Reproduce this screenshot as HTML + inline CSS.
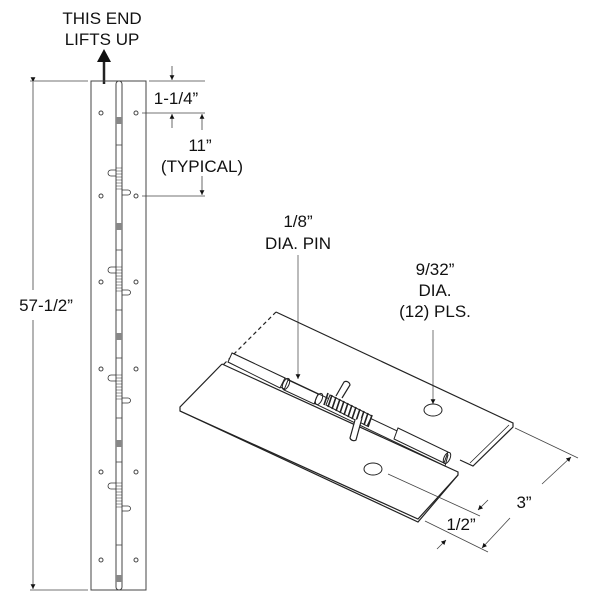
<!DOCTYPE html>
<html><head><style>body{margin:0;background:#fff}svg{display:block}text{font-family:"Liberation Sans",sans-serif;fill:#111}</style></head><body>
<svg width="600" height="600" viewBox="0 0 600 600" xmlns="http://www.w3.org/2000/svg" stroke="#222" fill="none" stroke-width="1">
<defs><marker id="a" viewBox="0 0 10 10" refX="10" refY="5" markerWidth="6" markerHeight="6" orient="auto"><path d="M0,0L10,5L0,10z" fill="#111" stroke="none"/></marker></defs>
<text x="102" y="24" font-size="17" text-anchor="middle" stroke="none">THIS END</text>
<text x="102" y="45" font-size="17" text-anchor="middle" stroke="none">LIFTS UP</text>
<line x1="104" y1="84" x2="104" y2="55" stroke-width="2.5"/>
<path d="M97,62L104,49L111,62z" fill="#111" stroke="none"/>
<rect x="91" y="81" width="55" height="509" stroke="#444"/>
<rect x="116" y="81" width="6" height="509" rx="3" stroke="#444"/>
<g fill="#888" stroke="none">
<rect x="116" y="117" width="6" height="7"/><rect x="116" y="223" width="6" height="7"/><rect x="116" y="333" width="6" height="7"/><rect x="116" y="440" width="6" height="7"/><rect x="116" y="575" width="6" height="7"/></g>
<g stroke="#444" stroke-width="0.8">
<line x1="116" y1="145" x2="122" y2="145"/><line x1="116" y1="250" x2="122" y2="250"/><line x1="116" y1="310" x2="122" y2="310"/><line x1="116" y1="358" x2="122" y2="358"/><line x1="116" y1="418" x2="122" y2="418"/><line x1="116" y1="462" x2="122" y2="462"/><line x1="116" y1="545" x2="122" y2="545"/></g>
<g stroke="#333" stroke-width="0.8">
<path d="M116,170h-5a3,3 0 0 0 0,6h5"/><path d="M122,190h6a2.5,2.5 0 0 1 0,5h-6"/>
<path d="M116,267h-5a3,3 0 0 0 0,6h5"/><path d="M122,290h6a2.5,2.5 0 0 1 0,5h-6"/>
<path d="M116,375h-5a3,3 0 0 0 0,6h5"/><path d="M122,398h6a2.5,2.5 0 0 1 0,5h-6"/>
<path d="M116,483h-5a3,3 0 0 0 0,6h5"/><path d="M122,506h6a2.5,2.5 0 0 1 0,5h-6"/>
</g>
<g stroke="#333" stroke-width="0.6">
<path d="M116,168h6M116,171h6M116,174h6M116,177h6M116,180h6M116,183h6M116,186h6M116,189h6"/>
<path d="M116,267h6M116,270h6M116,273h6M116,276h6M116,279h6M116,282h6M116,285h6M116,288h6M116,291h6"/>
<path d="M116,375h6M116,378h6M116,381h6M116,384h6M116,387h6M116,390h6M116,393h6M116,396h6M116,399h6"/>
<path d="M116,483h6M116,486h6M116,489h6M116,492h6M116,495h6M116,498h6M116,501h6M116,504h6M116,507h6"/>
</g>
<g stroke="#444">
<circle cx="101" cy="113" r="2"/><circle cx="136" cy="113" r="2"/>
<circle cx="101" cy="196" r="2"/><circle cx="136" cy="196" r="2"/>
<circle cx="101" cy="282" r="2"/><circle cx="136" cy="282" r="2"/>
<circle cx="101" cy="369" r="2"/><circle cx="136" cy="369" r="2"/>
<circle cx="101" cy="472" r="2"/><circle cx="136" cy="472" r="2"/>
<circle cx="101" cy="560" r="2"/><circle cx="136" cy="560" r="2"/>
</g>
<g stroke="#444" stroke-width="0.8">
<line x1="30" y1="81" x2="88" y2="81"/><line x1="30" y1="590" x2="88" y2="590"/>
<line x1="33" y1="82" x2="33" y2="290" marker-start="url(#a)"/><line x1="33" y1="320" x2="33" y2="589" marker-end="url(#a)"/>
<line x1="149" y1="81" x2="205" y2="81"/><line x1="142" y1="113" x2="205" y2="113"/><line x1="142" y1="196" x2="205" y2="196"/>
<line x1="172" y1="66" x2="172" y2="80" marker-end="url(#a)"/><line x1="172" y1="128" x2="172" y2="114" marker-end="url(#a)"/>
<line x1="202" y1="130" x2="202" y2="114" marker-end="url(#a)"/><line x1="202" y1="176" x2="202" y2="195" marker-end="url(#a)"/>
</g>
<text x="46" y="311" font-size="17" text-anchor="middle" stroke="none">57-1/2”</text>
<text x="176" y="104" font-size="17" text-anchor="middle" stroke="none">1-1/4”</text>
<text x="200" y="151" font-size="17" text-anchor="middle" stroke="none">11”</text>
<text x="202" y="172" font-size="17" text-anchor="middle" stroke="none">(TYPICAL)</text>
<text x="298" y="227" font-size="17" text-anchor="middle" stroke="none">1/8”</text>
<text x="298" y="249" font-size="17" text-anchor="middle" stroke="none">DIA. PIN</text>
<text x="435" y="275" font-size="17" text-anchor="middle" stroke="none">9/32”</text>
<text x="435" y="296" font-size="17" text-anchor="middle" stroke="none">DIA.</text>
<text x="435" y="317" font-size="17" text-anchor="middle" stroke="none">(12) PLS.</text>
<line x1="298" y1="255" x2="298" y2="379" stroke="#555" stroke-width="0.8" marker-end="url(#a)"/>
<line x1="433" y1="330" x2="433" y2="404" stroke="#555" stroke-width="0.8" marker-end="url(#a)"/>
<path d="M276,312L513,423L513,427L473,466L460,460" stroke-width="1.2"/>
<path d="M276,312L180,408" stroke-dasharray="4,3" stroke-width="1.2"/>
<path d="M509,425L470,463" stroke-width="0.8"/>
<path d="M222,364L458,472L458,475L418,519L180,411L180,407L222,364" stroke-width="1.2" fill="#fff"/>
<path d="M180,411L418,522L458,475" stroke-width="1.2"/>
<path d="M232,353L448,455L445,466L228,362" fill="#fff"/>
<path d="M232,353L285,378L280,388L228,362z" fill="#fff"/>
<path d="M330,395L372,416L367,426L326,405z" fill="#fff"/>
<path d="M398,428L448,452L444,463L394,439z" fill="#fff"/>
<path d="M288,380L318,394L314,404L284,390z" fill="#fff"/>
<ellipse cx="286" cy="384" rx="3" ry="6" transform="rotate(25 286 384)"/>
<ellipse cx="319" cy="399" rx="3" ry="6" transform="rotate(25 319 399)"/>
<ellipse cx="447" cy="458" rx="3" ry="6" transform="rotate(25 447 458)"/>
<g stroke-width="1.6">
<path d="M328,393l-4,12M332,395l-4,12M336,397l-4,12M340,399l-4,12M344,401l-4,12M348,403l-4,12M352,405l-4,12M356,407l-4,12M360,409l-4,12M364,411l-4,12M368,413l-4,12M372,415l-4,12"/>
</g>
<path d="M342,398L350,385a4,4 0 0 0 -6,-3L336,396" stroke-width="1.2"/>
<path d="M362,418L356,440a4,4 0 0 1 -6,-2L355,420" stroke-width="1.2" fill="#fff"/>
<ellipse cx="433" cy="410" rx="9" ry="6"/><ellipse cx="373" cy="469" rx="9" ry="6"/>
<g stroke="#444" stroke-width="0.8">
<line x1="515" y1="428" x2="578" y2="458"/><line x1="425" y1="521" x2="488" y2="552"/>
<line x1="388" y1="474" x2="480" y2="516"/>
<line x1="542" y1="484" x2="571" y2="457" marker-end="url(#a)"/><line x1="510" y1="518" x2="482" y2="548" marker-end="url(#a)"/>
<line x1="488" y1="500" x2="478" y2="510" marker-end="url(#a)"/><line x1="437" y1="549" x2="446" y2="540" marker-end="url(#a)"/>
</g>
<text x="524" y="508" font-size="17" text-anchor="middle" stroke="none">3”</text>
<text x="461" y="530" font-size="17" text-anchor="middle" stroke="none">1/2”</text>
</svg>
</body></html>
